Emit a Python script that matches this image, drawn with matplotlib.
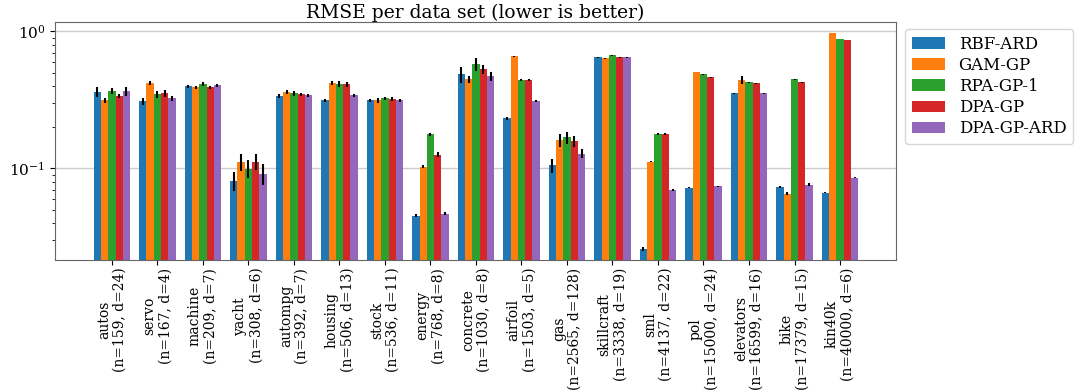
import matplotlib
matplotlib.use('Agg')
import matplotlib.pyplot as plt
import numpy as np

plt.rcParams['font.family'] = 'DejaVu Serif'
plt.rcParams['mathtext.fontset'] = 'dejavusans'

# data sets (name, n, d)
datasets = ['autos', 'servo', 'machine', 'yacht', 'autompg', 'housing', 'stock',
            'energy', 'concrete', 'airfoil', 'gas', 'skillcraft', 'sml', 'pol',
            'elevators', 'bike', 'kin40k']
n_points = [159, 167, 209, 308, 392, 506, 536, 768, 1030, 1503, 2565, 3338,
            4137, 15000, 16599, 17379, 40000]
n_dims = [24, 4, 7, 6, 7, 13, 11, 8, 8, 5, 128, 19, 22, 24, 16, 15, 6]

methods = ['RBF-ARD', 'GAM-GP', 'RPA-GP-1', 'DPA-GP', 'DPA-GP-ARD']

# mean RMSE per method, one value per data set
rbf_ard = [0.359, 0.308, 0.397, 0.081, 0.336, 0.313, 0.313, 0.045, 0.486, 0.231,
           0.105, 0.648, 0.0258, 0.0722, 0.353, 0.0734, 0.0664]
gam_gp = [0.313, 0.418, 0.390, 0.112, 0.359, 0.418, 0.313, 0.103, 0.447, 0.659,
          0.160, 0.637, 0.112, 0.503, 0.440, 0.0653, 0.972]
rpa_gp1 = [0.365, 0.347, 0.411, 0.0995, 0.353, 0.411, 0.324, 0.177, 0.575, 0.440,
           0.168, 0.670, 0.177, 0.486, 0.425, 0.447, 0.879]
dpa_gp = [0.336, 0.353, 0.390, 0.112, 0.347, 0.411, 0.319, 0.126, 0.529, 0.440,
          0.157, 0.648, 0.177, 0.462, 0.418, 0.425, 0.863]
dpa_gp_ard = [0.365, 0.324, 0.404, 0.0914, 0.341, 0.341, 0.313, 0.0466, 0.470, 0.308,
              0.128, 0.648, 0.0698, 0.0738, 0.353, 0.076, 0.0855]

# standard errors
rbf_ard_err = [0.030, 0.016, 0.012, 0.013, 0.010, 0.010, 0.010, 0.001, 0.065, 0.005,
               0.012, 0.004, 0.001, 0.001, 0.003, 0.001, 0.0005]
gam_gp_err = [0.014, 0.014, 0.010, 0.016, 0.012, 0.015, 0.012, 0.002, 0.025, 0.004,
              0.018, 0.004, 0.001, 0.002, 0.030, 0.002, 0.003]
rpa_gp1_err = [0.018, 0.022, 0.014, 0.015, 0.014, 0.020, 0.008, 0.004, 0.060, 0.005,
               0.017, 0.004, 0.003, 0.004, 0.004, 0.004, 0.006]
dpa_gp_err = [0.012, 0.020, 0.012, 0.015, 0.010, 0.018, 0.010, 0.006, 0.040, 0.005,
              0.015, 0.004, 0.003, 0.004, 0.004, 0.003, 0.004]
dpa_gp_ard_err = [0.030, 0.016, 0.010, 0.016, 0.010, 0.010, 0.010, 0.001, 0.035, 0.005,
                  0.010, 0.004, 0.001, 0.001, 0.003, 0.002, 0.001]

values = [rbf_ard, gam_gp, rpa_gp1, dpa_gp, dpa_gp_ard]
errors = [rbf_ard_err, gam_gp_err, rpa_gp1_err, dpa_gp_err, dpa_gp_ard_err]
colors = ['#1f77b4', '#ff7f0e', '#2ca02c', '#d62728', '#9467bd']

fig = plt.figure(figsize=(10.76, 3.92), dpi=100)
ax = fig.add_axes([55 / 1076, 1 - 260 / 392, (896 - 55) / 1076, (260 - 22) / 392])

x = np.arange(len(datasets))
width = 0.16
for k in range(len(methods)):
    ax.bar(x + (k - 2) * width, values[k], width, yerr=errors[k], color=colors[k],
           label=methods[k], error_kw=dict(ecolor='black', elinewidth=1.5, capsize=0))

ax.set_yscale('log')
ax.set_ylim(0.0214, 1.17)
ax.set_xlim(-1.25, len(datasets) - 1 + 1.23)
ax.yaxis.grid(True, which='major', color='#cccccc', linewidth=1)
ax.set_axisbelow(True)

labels = ['%s\n(n=%d, d=%d)' % (name, n, d) for name, n, d in zip(datasets, n_points, n_dims)]
ax.set_xticks(x)
ax.set_xticklabels(labels, rotation=90, fontsize=10, multialignment='center')
ax.tick_params(axis='x', pad=2)
ax.tick_params(axis='y', labelsize=11)
for s in ax.spines.values():
    s.set_color('#666666')

ax.set_title('RMSE per data set (lower is better)', fontsize=13.5, pad=2)
ax.legend(loc='upper left', bbox_to_anchor=(1.011, 0.97), fontsize=12, borderaxespad=0,
          handlelength=2.0, handletextpad=0.8, labelspacing=0.25)

plt.savefig('out.png', dpi=100)
